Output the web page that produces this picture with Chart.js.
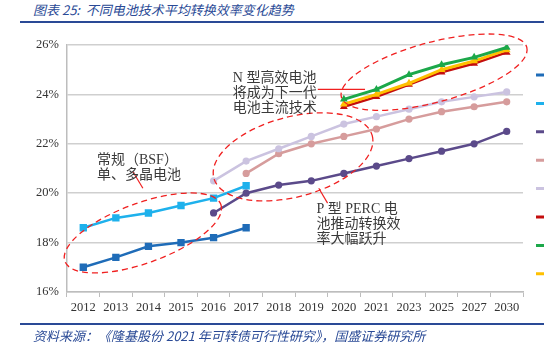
<!DOCTYPE html>
<html>
<head>
<meta charset="utf-8">
<script src="https://cdn.jsdelivr.net/npm/chart.js@4.4.0/dist/chart.umd.min.js"></script>
<style>
  html, body { margin: 0; padding: 0; background: #fff; overflow: hidden; }
  #wrap { position: relative; width: 544px; height: 348px; }
  .cap { position: absolute; left: 33px; font: italic 13px "Noto Sans CJK SC", sans-serif; color: #2a4a96; white-space: nowrap; }
  .rule { position: absolute; left: 20px; right: 0; height: 2px; background: #2a4a96; }
  #chart { position: absolute; left: 0; top: 0; }
</style>
</head>
<body>
<div id="wrap">
  <div class="cap" style="top:0px;">图表 25:&nbsp; 不同电池技术平均转换效率变化趋势</div>
  <div class="rule" style="top:21px;"></div>
  <canvas id="chart" width="544" height="348"></canvas>
  <div class="rule" style="top:323px;"></div>
  <div class="cap" style="top:326px;">资料来源：《隆基股份 2021 年可转债可行性研究》，国盛证券研究所</div>
</div>
<script>
// 年份（2021 之后隔年取值）
const years = ['2012', '2013', '2014', '2015', '2016', '2017', '2018', '2019', '2020', '2021', '2023', '2025', '2027', '2030'];

// 各技术平均转换效率（%）
const bsfMono   = [18.6, 19.0, 19.2, 19.5, 19.8, 20.3, null, null, null, null, null, null, null, null];
const bsfMulti  = [17.0, 17.4, 17.85, 18.0, 18.2, 18.6, null, null, null, null, null, null, null, null];
const percMulti = [null, null, null, null, 19.2, 20.0, 20.33, 20.5, 20.8, 21.1, 21.4, 21.7, 22.0, 22.5];
const percA     = [null, null, null, null, null, 20.8, 21.6, 22.0, 22.3, 22.6, 23.0, 23.3, 23.5, 23.7];
const percB     = [null, null, null, null, 20.5, 21.3, 21.8, 22.3, 22.8, 23.1, 23.4, 23.7, 23.9, 24.1];
const nTopcon   = [null, null, null, null, null, null, null, null, 23.5, 23.9, 24.4, 24.9, 25.25, 25.7];
const nHjt      = [null, null, null, null, null, null, null, null, 23.8, 24.2, 24.8, 25.2, 25.5, 25.9];
const nIbc      = [null, null, null, null, null, null, null, null, 23.6, 24.0, 24.45, 25.0, 25.35, 25.8];

const yTicks = [16, 18, 20, 22, 24, 26];

const serif = '"Liberation Serif", "DejaVu Serif", serif';
const cjk = '"Liberation Serif", "Noto Sans CJK SC", serif';

function series(label, data, color, style, radius, order, width) {
  return {
    label: label,
    data: data,
    borderColor: color,
    backgroundColor: color,
    borderWidth: width || 2.5,
    pointStyle: style,
    pointRadius: radius,
    pointBorderWidth: 0,
    pointBackgroundColor: color,
    tension: 0,
    order: order
  };
}

const datasets = [
  series('BSF 多晶', bsfMulti, '#1f6cb8', 'rect', 5.2, 8),
  series('BSF 单晶', bsfMono, '#1eb1ec', 'rect', 5.2, 7),
  series('PERC 多晶', percMulti, '#5b4a8a', 'circle', 3.6, 6),
  series('PERC 单晶', percA, '#d69c9c', 'circle', 3.6, 5),
  series('PERC 单晶(高效)', percB, '#cbc3e0', 'circle', 3.6, 4),
  series('TOPCon', nTopcon, '#c40d0d', 'triangle', 4.5, 3),
  series('HJT', nHjt, '#1ca84a', 'triangle', 4.5, 1, 3),
  series('IBC', nIbc, '#ffc000', 'triangle', 4.5, 2, 3)
];

// 虚线椭圆：中心按坐标轴取值，半径/旋转为像素
const ellipses = [
  { x: 1.83, y: 18.39, rx: 83, ry: 30, rot: -20 },
  { x: 6.44, y: 21.47, rx: 82, ry: 40, rot: -15 },
  { x: 10.77, y: 24.9, rx: 96, ry: 30, rot: -15 }
];

// 说明文字与引线
const notes = [
  { x: 0.42, y: 21.35, lines: ['常规（BSF）', '单、多晶电池'], lead: [[1.52, 20.88], [1.83, 20.2]] },
  { x: 4.59, y: 24.65, lines: ['N 型高效电池', '将成为下一代', '电池主流技术'], lead: [[7.2, 24.2], [8.65, 24.2]] },
  { x: 7.16, y: 19.35, lines: ['P 型 PERC 电', '池推动转换效', '率大幅跃升'], lead: [[7.23, 20.2], [7.5, 19.6]] }
];

const annotate = {
  id: 'annotate',
  afterDatasetsDraw(chart) {
    const { ctx, scales } = chart;
    const sx = scales.x, sy = scales.y;
    ctx.save();
    ctx.strokeStyle = '#f02020';
    ctx.lineWidth = 1.3;
    ctx.setLineDash([6, 4]);
    ellipses.forEach(e => {
      ctx.beginPath();
      ctx.ellipse(sx.getPixelForValue(e.x), sy.getPixelForValue(e.y), e.rx, e.ry, e.rot * Math.PI / 180, 0, Math.PI * 2);
      ctx.stroke();
    });
    ctx.setLineDash([]);
    ctx.lineWidth = 1.2;
    notes.forEach(n => {
      ctx.beginPath();
      ctx.moveTo(sx.getPixelForValue(n.lead[0][0]), sy.getPixelForValue(n.lead[0][1]));
      ctx.lineTo(sx.getPixelForValue(n.lead[1][0]), sy.getPixelForValue(n.lead[1][1]));
      ctx.stroke();
    });
    ctx.fillStyle = '#3a3a3a';
    ctx.font = '14px ' + cjk;
    ctx.textBaseline = 'middle';
    notes.forEach(n => {
      const x = sx.getPixelForValue(n.x);
      const y = sy.getPixelForValue(n.y);
      n.lines.forEach((t, i) => ctx.fillText(t, x, y + i * 15));
    });
    ctx.restore();
  }
};

// 右侧图例（文字在画面之外）
const sideLegend = {
  id: 'sideLegend',
  afterDraw(chart) {
    const ctx = chart.ctx;
    ctx.save();
    chart.data.datasets.forEach((ds, i) => {
      const y = 75 + i * 28.4;
      ctx.strokeStyle = ds.borderColor;
      ctx.lineWidth = 3;
      ctx.beginPath();
      ctx.moveTo(536, y);
      ctx.lineTo(570, y);
      ctx.stroke();
      ctx.fillStyle = ds.borderColor;
      Chart.helpers.drawPoint(ctx, { pointStyle: ds.pointStyle, radius: ds.pointRadius, rotation: 0, borderWidth: 0 }, 548, y);
    });
    ctx.restore();
  }
};

new Chart(document.getElementById('chart'), {
  type: 'line',
  data: { labels: years, datasets: datasets },
  options: {
    responsive: false,
    animation: false,
    devicePixelRatio: 1,
    layout: { padding: { left: 0, right: 21, top: 45, bottom: 26 } },
    plugins: {
      legend: { display: false },
      tooltip: { enabled: false }
    },
    scales: {
      x: {
        offset: true,
        afterFit: axis => { axis.height = 30; },
        grid: { drawOnChartArea: false, drawTicks: true, tickLength: 5, offset: true, color: '#bdbdbd', lineWidth: 1 },
        border: { color: '#bdbdbd', width: 1.5 },
        ticks: { autoSkip: false, maxRotation: 0, padding: 3, color: '#333', font: { family: serif, size: 12.5 } }
      },
      y: {
        min: yTicks[0],
        max: yTicks[yTicks.length - 1],
        afterFit: axis => { axis.width = 67; },
        afterBuildTicks: axis => { axis.ticks = yTicks.map(v => ({ value: v })); },
        grid: { color: '#cfcfcf', lineWidth: 1.5, drawTicks: false },
        border: { color: '#bdbdbd', width: 1.5 },
        ticks: { padding: 8, color: '#333', font: { family: serif, size: 12.5 }, callback: v => v + '%' }
      }
    }
  },
  plugins: [annotate, sideLegend]
});
</script>
</body>
</html>
